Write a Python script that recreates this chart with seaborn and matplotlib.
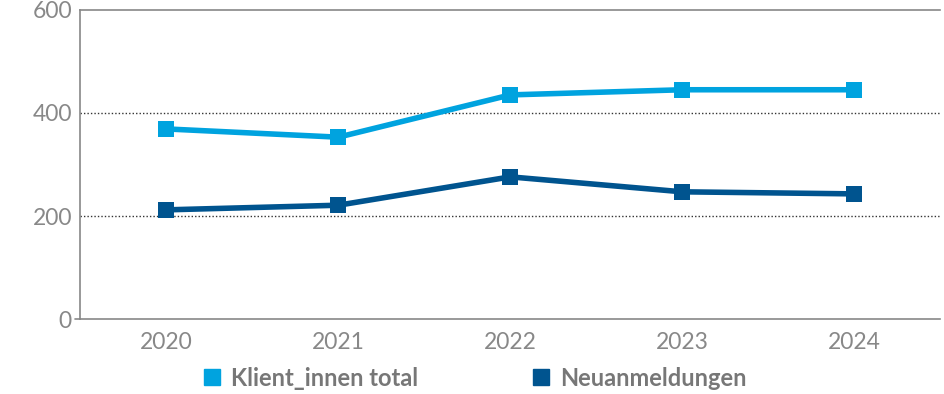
import matplotlib
matplotlib.use("Agg")
import matplotlib.pyplot as plt
import pandas as pd
import seaborn as sns
from matplotlib.lines import Line2D

years = ["2020", "2021", "2022", "2023", "2024"]
klient_total = [369, 353, 435, 445, 445]
neuanmeldungen = [212, 221, 276, 247, 243]
series_names = ["Klient_innen total", "Neuanmeldungen"]
colors = ["#00a3df", "#00548f"]

df = pd.DataFrame({"Jahr": years * 2,
                   "Wert": klient_total + neuanmeldungen,
                   "Serie": [series_names[0]] * 5 + [series_names[1]] * 5})

sns.set_style("white")
plt.rcParams["font.family"] = ["Lato", "DejaVu Sans"]

fig = plt.figure(figsize=(9.45, 3.94), dpi=100)
ax = fig.add_axes([0.085, 0.19, 0.91, 0.785])

sns.lineplot(data=df, x="Jahr", y="Wert", hue="Serie", palette=colors,
             marker="s", markersize=11, markeredgewidth=0, linewidth=4,
             legend=False, ax=ax, sort=False)

ax.set_xlim(-0.5, 4.5)
ax.set_ylim(0, 600)
ax.set_yticks([0, 200, 400, 600])
ax.set_xlabel("")
ax.set_ylabel("")

for y in [200, 400]:
    ax.axhline(y, color="#333333", linestyle=(0, (1, 1.5)), linewidth=1, zorder=0)

grey = "#888888"
for side in ["left", "bottom", "top"]:
    ax.spines[side].set_visible(True)
    ax.spines[side].set_color(grey)
    ax.spines[side].set_linewidth(1.2)
ax.spines["right"].set_visible(False)

ax.set_xticks(range(5))
ax.set_xticks([-0.5, 0.5, 1.5, 2.5, 3.5, 4.5], minor=True)
ax.tick_params(axis="x", which="major", length=0, pad=9, labelsize=16.5, labelcolor=grey)
ax.tick_params(axis="x", which="minor", length=8, width=1.2, color=grey, direction="out")
ax.tick_params(axis="y", length=0, pad=6, labelsize=16.5, labelcolor=grey)
# small tick at zero
ax.plot([-0.53, -0.5], [0, 0], color=grey, lw=1.2, clip_on=False)

handles = [Line2D([], [], color=c, marker="s", linestyle="", markersize=12) for c in colors]
leg = fig.legend(handles, series_names, loc="center", bbox_to_anchor=(0.5, 0.04),
                 ncol=2, frameon=False, handlelength=1.2, handletextpad=0.2,
                 columnspacing=4.6, prop={"size": 17, "weight": "bold"})
for t in leg.get_texts():
    t.set_color("#777777")

fig.savefig("out.png", dpi=100)
